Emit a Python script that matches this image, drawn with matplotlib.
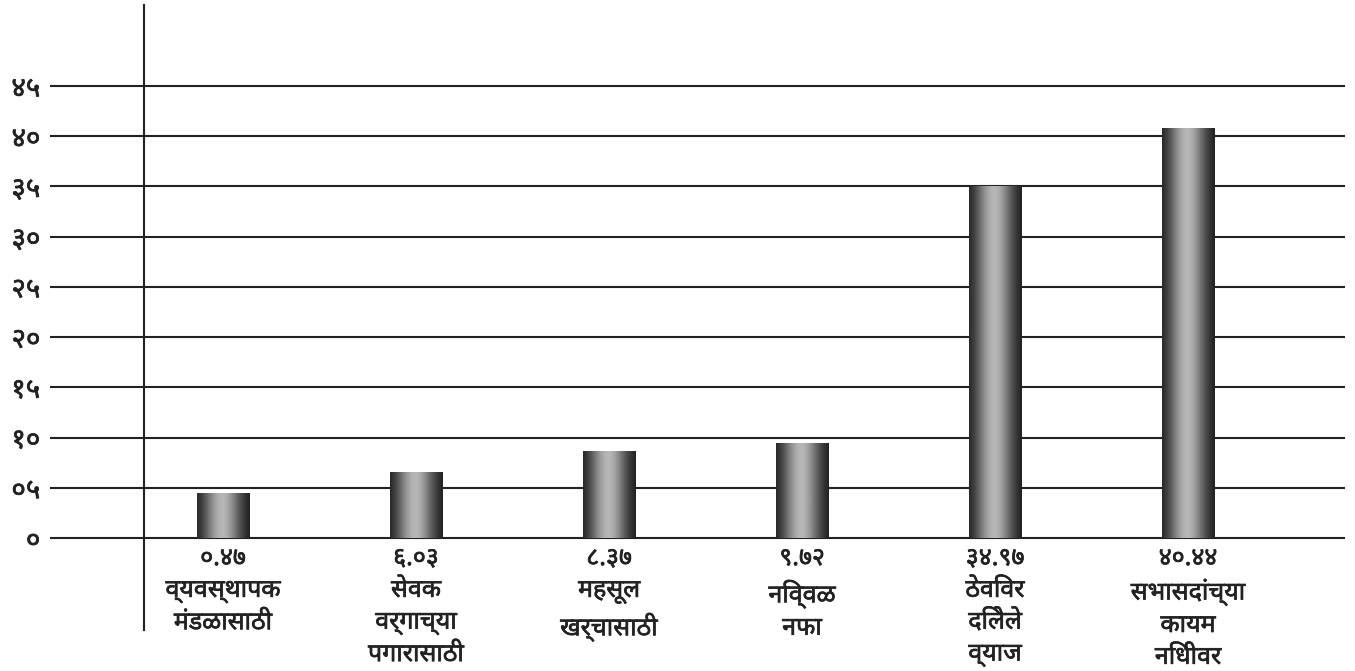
import matplotlib
matplotlib.use("Agg")
import matplotlib.pyplot as plt
import matplotlib.patheffects as pe
import numpy as np
from matplotlib import font_manager
from matplotlib.ft2font import FT2Font

# ---------------- data ----------------
categories = [
    "व्यवस्थापक\nमंडळासाठी",
    "सेवक\nवर्गाच्या\nपगारासाठी",
    "महसूल\nखर्चासाठी",
    "निव्वळ\nनफा",
    "ठेविवर\nदिलेले\nव्याज",
    "सभासदांच्या\nकायम\nनिधीवर",
]
value_labels = ["०.४७", "६.०३", "८.३७", "९.७२", "३४.९७", "४०.४४"]
bar_heights = [4.4, 6.5, 8.6, 9.4, 35.0, 40.8]
y_ticks = [0, 5, 10, 15, 20, 25, 30, 35, 40, 45]
y_tick_labels = ["०", "०५", "१०", "१५", "२०", "२५", "३०", "३५", "४०", "४५"]

# ---------------- font detection ----------------
found = []
for f in font_manager.fontManager.ttflist:
    try:
        ft = FT2Font(f.fname)
        if ft.get_char_index(0x0915) and ft.get_char_index(0x0967):
            found.append(f.name)
    except Exception:
        pass
names = sorted(set(found))
prefs = ["Noto Sans Devanagari", "Noto Serif Devanagari", "Mukta", "Hind", "Lohit Devanagari"]
fam = next((p for p in prefs if p in names), names[0] if names else "DejaVu Sans")
plt.rcParams['font.family'] = [fam, 'DejaVu Sans']

# ---------------- figure ----------------
W, H = 1355, 671
fig = plt.figure(figsize=(W / 100, H / 100), dpi=100)
ax = fig.add_axes([144 / W, 1 - 630 / H, (1345 - 144) / W, (630 - 5) / H])

x = np.arange(len(categories))
xlim = ((144 - 223) / 193, (1345 - 223) / 193)
ylim = ((538 - 630) / 10.044, (538 - 5) / 10.044)

bar_w = 53 / 193
bars = ax.bar(x, bar_heights, width=bar_w, color='none', edgecolor='none', zorder=3)

# cylindrical gradient
prof = np.array([0.16, 0.24, 0.36, 0.50, 0.62, 0.70, 0.72, 0.66, 0.55, 0.42, 0.30, 0.20, 0.13])
xs = np.linspace(0, 1, len(prof))
xx = np.linspace(0, 1, 200)
grad = np.interp(xx, xs, prof)[None, :]
for b in bars:
    x0, y0 = b.get_x(), b.get_y()
    w, h = b.get_width(), b.get_height()
    ax.imshow(grad, cmap='gray', vmin=0, vmax=1, aspect='auto',
              extent=[x0, x0 + w, y0, y0 + h], zorder=3, interpolation='bicubic')
ax.set_xlim(*xlim)
ax.set_ylim(*ylim)

for s in ['top', 'right', 'bottom']:
    ax.spines[s].set_visible(False)
ax.spines['left'].set_linewidth(1.5)
ax.spines['left'].set_color('#222222')

thick = [pe.withStroke(linewidth=0.5, foreground='#222222')]

ax.set_yticks(y_ticks, labels=y_tick_labels)
ax.yaxis.grid(True, color='#222222', linewidth=1.5, zorder=1)
ax.set_axisbelow(True)
ax.tick_params(axis='y', length=94 * 0.72, width=1.5, color='#222222',
               pad=7, labelsize=20, labelcolor='#222222')
for t in ax.get_yticklabels():
    t.set_fontweight('bold')
    t.set_path_effects(thick)

ax.set_xticks([])
for xi, v, c in zip(x, value_labels, categories):
    ax.text(xi, -0.8, v + "\n" + c, ha='center', va='top', fontsize=18,
            fontweight='bold', color='#222222', linespacing=1.36, clip_on=False,
            path_effects=thick)

fig.savefig("out.png", dpi=100, facecolor='white')
